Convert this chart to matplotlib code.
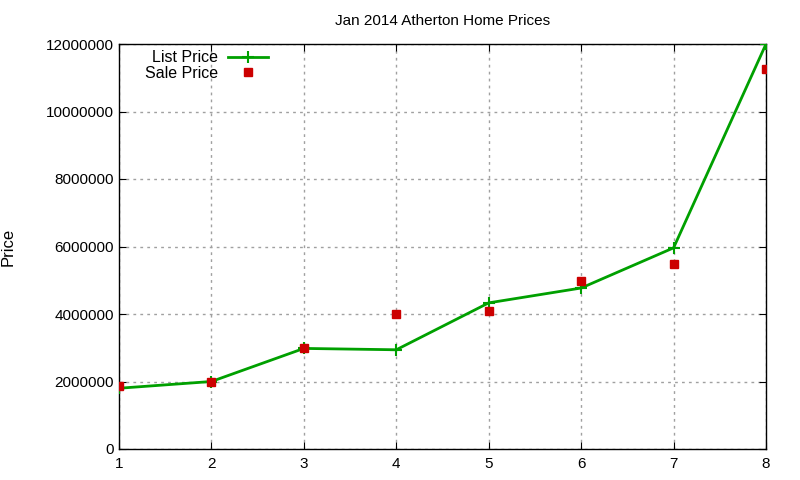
import matplotlib.pyplot as plt

plt.rcParams['font.family'] = ['Liberation Sans', 'DejaVu Sans']

# data
days = [1, 2, 3, 4, 5, 6, 7, 8]
list_price = [1800000, 2000000, 2980000, 2940000, 4330000, 4770000, 5960000, 12000000]
sale_price = [1870000, 2000000, 2990000, 4000000, 4090000, 4980000, 5480000, 11250000]
y_ticks = [0, 2000000, 4000000, 6000000, 8000000, 10000000, 12000000]

fig = plt.figure(figsize=(8, 4.8), dpi=100)
ax = fig.add_axes([119 / 800, 1 - 449 / 480, (766 - 119) / 800, (449 - 44) / 480])

ax.plot(days, list_price, color='#00a000', lw=2, marker='+', ms=9, mew=1.5,
        label='List Price', zorder=3)
ax.plot(days, sale_price, ls='none', marker='s', ms=6, color='#cc0000',
        label='Sale Price', zorder=4)

ax.set_xlim(1, 8)
ax.set_ylim(0, 12000000)
ax.set_xticks(days)
ax.set_yticks(y_ticks)
ax.set_yticklabels([str(v) for v in y_ticks])
ax.tick_params(direction='in', length=5, top=True, right=True, labelsize=11, colors='black')
ax.tick_params(axis='x', pad=6)
ax.grid(True, color='#a0a0a0', ls=(0, (2, 3)), lw=1)
for s in ax.spines.values():
    s.set_linewidth(1)

ax.set_title('Jan 2014 Atherton Home Prices', fontsize=11, pad=14)
ax.set_ylabel('Price', fontsize=12, labelpad=22)

leg = ax.legend(loc='upper left', bbox_to_anchor=(0.018, 1.02), frameon=False,
                markerfirst=False, fontsize=11.5, handlelength=2.5,
                labelspacing=0.02, handletextpad=0.6)
for t in leg.get_texts():
    t.set_ha('right')

fig.savefig('out.png', dpi=100)
